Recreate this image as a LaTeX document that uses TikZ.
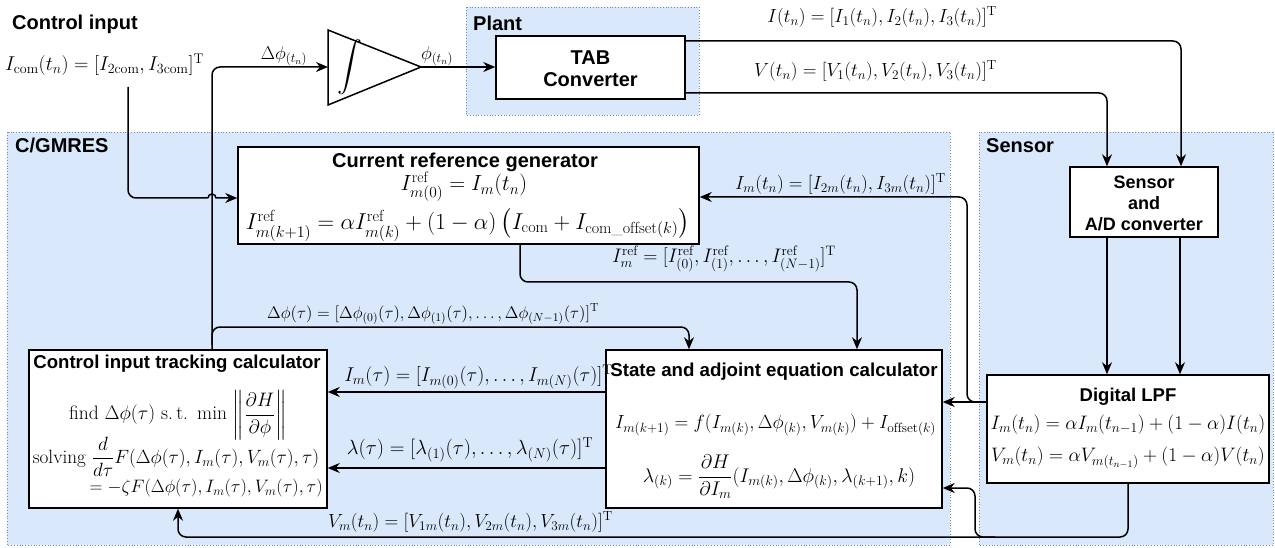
\RequirePackage{fix-cm}
\documentclass[tikz,border=0pt]{standalone}
\usepackage{amsmath}
\usepackage{fontspec}
\newfontfamily\lsans{Liberation Sans}
\usetikzlibrary{arrows.meta,calc}
\definecolor{cfill}{HTML}{DAE8FC}
\definecolor{cdraw}{HTML}{6C8EBF}
\tikzset{
  cont/.style={fill=cfill, draw=cdraw, dotted, line width=0.8pt},
  blk/.style={draw=black, fill=white, line width=1.5pt, inner sep=0pt},
  ttl/.style={font=\lsans\bfseries\fontsize{#1}{21}\selectfont, inner sep=0pt},
  ttl/.default=20,
  ms/.style={font=\fontsize{#1}{#1}\selectfont, inner sep=0pt},
  ms/.default=19,
  wire/.style={draw=black, line width=1.5pt, rounded corners=8pt},
  arr/.style={wire, -{Stealth[length=12pt,width=10pt]}},
}
\begin{document}
\begin{tikzpicture}[x=1pt,y=-1pt]
\useasboundingbox (0,0) rectangle (1275,548);
\fill[white] (0,0) rectangle (1275,548);
% containers
\draw[cont] (466,7) rectangle (699,115);
\draw[cont] (7,132) rectangle (950,545);
\draw[cont] (979,132) rectangle (1273,545);
\node[ttl, anchor=base west] (lplant) at (473,31) {Plant};
\node[ttl, anchor=base west] (lgm) at (15,153) {C/GMRES};
\node[ttl, anchor=base west] (lsen) at (986,153) {Sensor};
\node[ttl, anchor=base west] (lci) at (12,30) {Control input};
% blocks
\node[blk, minimum width=189pt, minimum height=63pt] (tab) at (590.5,67.5) {};
\node[ttl, align=center, font=\lsans\bfseries\fontsize{20}{22}\selectfont] (tabt) at (590.5,69) {TAB\\Converter};
\draw[blk] (328,30) -- (328,105) -- (421,67) -- cycle;
\coordinate (intin) at (328,67);
\coordinate (intout) at (421,67);
\node[inner sep=0pt, font=\fontsize{25}{30}\selectfont] (intsym) at (350,67) {$\displaystyle\int$};

\node[blk, minimum width=461pt, minimum height=97pt] (ref) at (468.5,195.5) {};
\node[ttl] (reft) at (465,162) {Current reference generator};
\node[ms=22] (refe1) at (464,187) {$I^{\mathrm{ref}}_{m(0)} = I_m(t_n)$};
\node[ms=23] (refe2) at (468,225) {$I^{\mathrm{ref}}_{m(k+1)} = \alpha I^{\mathrm{ref}}_{m(k)} + (1-\alpha)\left(I_{\mathrm{com}} + I_{\mathrm{com\_offset}(k)}\right)$};

\node[blk, minimum width=298pt, minimum height=158pt] (trk) at (178,429) {};
\node[ttl=18.6] (trkt) at (177,364) {Control input tracking calculator};
\node[ms=19.5] (trk1) at (178,415) {$\text{find } \Delta\phi(\tau)\ \text{s.\,t.}\ \min\ \biggl\lVert \dfrac{\partial H}{\partial \phi}\biggr\rVert$};
\node[ms=19.2] (trk2) at (176,457) {$\text{solving } \dfrac{d}{d\tau}F(\Delta\phi(\tau), I_m(\tau), V_m(\tau), \tau)$};
\node[ms=18, anchor=east] (trk3) at (323,488) {$= -\zeta F(\Delta\phi(\tau), I_m(\tau), V_m(\tau), \tau)$};

\node[blk, minimum width=336pt, minimum height=158pt] (sta) at (774,429) {};
\node[ttl=18.7] (stat) at (774,372) {State and adjoint equation calculator};
\node[ms=19.1] (sta1) at (775.5,425) {$I_{m(k+1)} = f(I_{m(k)}, \Delta\phi_{(k)}, V_{m(k)}) + I_{\mathrm{offset}(k)}$};
\node[ms=19.8] (sta2) at (779,477) {$\lambda_{(k)} = \dfrac{\partial H}{\partial I_m}(I_{m(k)}, \Delta\phi_{(k)}, \lambda_{(k+1)}, k)$};

\node[blk, minimum width=148pt, minimum height=70pt] (adc) at (1144,202) {};
\node[ttl=18, align=center] (adct) at (1144,203) {Sensor\\and\\A/D converter};

\node[blk, minimum width=282pt, minimum height=108pt] (lpf) at (1128,429) {};
\node[ttl=18.5] (lpft) at (1128,397) {Digital LPF};
\node[ms=19.5] (lpf1) at (1128,425) {$I_m(t_n) = \alpha I_m(t_{n-1}) + (1-\alpha) I(t_n)$};
\node[ms=19.5] (lpf2) at (1128,458) {$V_m(t_n) = \alpha V_{m(t_{n-1})} + (1-\alpha) V(t_n)$};

% labels
\node[ms=20, anchor=west] (licom) at (5,65) {$I_{\mathrm{com}}(t_n) = [I_{2\mathrm{com}}, I_{3\mathrm{com}}]^{\mathrm{T}}$};
\node[ms=18.5] (ldphi) at (284,56) {$\Delta\phi_{(t_n)}$};
\node[ms=18.5] (lphi) at (437,56) {$\phi_{(t_n)}$};
\node[ms, anchor=east] (lI) at (997,17) {$I(t_n) = [I_1(t_n), I_2(t_n), I_3(t_n)]^{\mathrm{T}}$};
\node[ms, anchor=east] (lV) at (997,71) {$V(t_n) = [V_1(t_n), V_2(t_n), V_3(t_n)]^{\mathrm{T}}$};
\node[ms, anchor=east] (lIm) at (946,184) {$I_m(t_n) = [I_{2m}(t_n), I_{3m}(t_n)]^{\mathrm{T}}$};
\node[ms=19.6, anchor=east] (lIref) at (836,259) {$I^{\mathrm{ref}}_m = [I^{\mathrm{ref}}_{(0)}, I^{\mathrm{ref}}_{(1)}, \ldots, I^{\mathrm{ref}}_{(N-1)}]^{\mathrm{T}}$};
\node[ms=16.8, anchor=west] (ldphit) at (267,314) {$\Delta\phi(\tau) = [\Delta\phi_{(0)}(\tau), \Delta\phi_{(1)}(\tau), \ldots, \Delta\phi_{(N-1)}(\tau)]^{\mathrm{T}}$};
\node[ms=20, anchor=east] (lImt) at (613,377) {$I_m(\tau) = [I_{m(0)}(\tau), \ldots, I_{m(N)}(\tau)]^{\mathrm{T}}$};
\node[ms=20.5] (llam) at (470,450) {$\lambda(\tau) = [\lambda_{(1)}(\tau), \ldots, \lambda_{(N)}(\tau)]^{\mathrm{T}}$};
\node[ms, anchor=east] (lVm) at (613,522) {$V_m(t_n) = [V_{1m}(t_n), V_{2m}(t_n), V_{3m}(t_n)]^{\mathrm{T}}$};

% connectors
\coordinate (icomout) at (128,87);
\coordinate (hopa) at (208,198);
\draw[wire] (icomout) |- (hopa);
\draw[arr, sharp corners] (hopa) arc[start angle=180, end angle=0, radius=4pt] -- (ref.west |- hopa);
\draw[arr] (212,0 |- trk.north) |- (intin);
\coordinate (brdphi) at (212,345);
\draw[arr] (brdphi) |- (689,327) -- (689,0 |- sta.north);
\draw[arr] (intout) -- (tab.west |- intout);
\draw[arr] (tab.east |- 0,41) -| (1181,0 |- adc.north);
\draw[arr] (tab.east |- 0,93) -| (1107,0 |- adc.north);
\draw[arr] (1107,0 |- adc.south) -- (1107,0 |- lpf.north);
\draw[arr] (1180,0 |- adc.south) -- (1180,0 |- lpf.north);
\draw[arr] (lpf.west |- 0,402) -- (sta.east |- 0,402);
\draw[arr] (lpf.west |- 0,402) -| (967,197) -- (ref.east |- 0,197);
\draw[arr] (520,0 |- ref.south) |- (857,282) -- (857,0 |- sta.north);
\draw[arr] (sta.west |- 0,392) -- (trk.east |- 0,392);
\draw[arr] (sta.west |- 0,468) -- (trk.east |- 0,468);
\draw[arr] (1128,0 |- lpf.south) |- (178,537) -- (178,0 |- trk.south);
\coordinate (brvm) at (995,537);
\draw[arr] (brvm) -- (975,537) |- (sta.east |- 0,488);
\end{tikzpicture}
\end{document}
